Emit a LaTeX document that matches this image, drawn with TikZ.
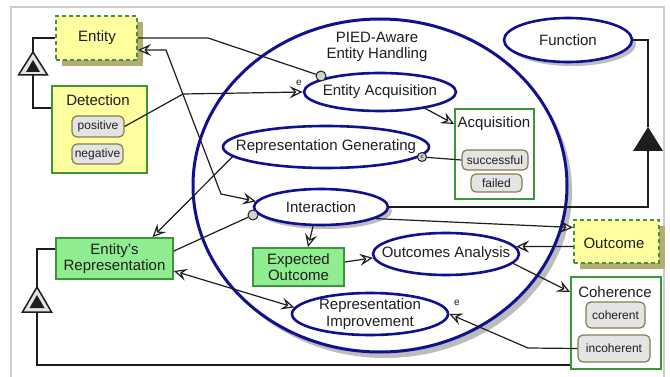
\documentclass[tikz,border=0pt]{standalone}
\usepackage{fontspec}
\setmainfont{Liberation Sans}
\usetikzlibrary{arrows.meta,shadows,shapes.geometric,calc}

\definecolor{ink}{RGB}{30,30,30}
\definecolor{navy}{RGB}{16,16,145}
\definecolor{grn}{RGB}{60,150,60}
\definecolor{lgreen}{RGB}{144,238,144}
\definecolor{yel}{RGB}{255,255,160}
\definecolor{khaki}{RGB}{180,172,112}
\definecolor{shade}{RGB}{188,188,188}
\definecolor{pillfill}{RGB}{228,228,228}
\definecolor{pilldraw}{RGB}{135,125,75}
\definecolor{dotfill}{RGB}{210,210,210}
\definecolor{framec}{RGB}{205,205,205}

\tikzset{
  txt/.style={font=\fontsize{15}{16.5}\selectfont, text=ink, align=center, inner sep=0pt},
  tiny/.style={font=\fontsize{10}{10}\selectfont, text=ink, inner sep=0pt},
  ell/.style={ellipse, draw=navy, line width=2.6pt, fill=white, inner sep=0pt},
  ellshadow/.style={drop shadow={shadow xshift=4pt, shadow yshift=-4pt, fill=shade, opacity=1}},
  greenbox/.style={rectangle, draw=grn, line width=1.8pt, fill=lgreen, inner sep=0pt},
  frame/.style={rectangle, draw=grn, line width=1.8pt, fill=white, inner sep=0pt},
  detbox/.style={rectangle, draw=grn, line width=1.8pt, fill=yel, inner sep=0pt},
  thing/.style={rectangle, draw=grn, line width=2pt, dash pattern=on 4pt off 3pt, fill=yel, inner sep=0pt,
    drop shadow={shadow xshift=6pt, shadow yshift=-6pt, fill=khaki, opacity=1}},
  pill/.style={rectangle, rounded corners=5pt, draw=pilldraw, line width=1.2pt, fill=pillfill,
    inner sep=0pt, font=\fontsize{12}{13}\selectfont, text=ink},
  dot/.style={circle, draw=ink, fill=dotfill, line width=1pt, minimum size=10pt, inner sep=0pt},
  conn/.style={draw=ink, line width=1.2pt},
  tip/.tip={Stealth[fill=white, length=13pt, width=12pt, inset=5pt]},
  arr/.style={conn, -tip},
  arrboth/.style={conn, tip-tip},
  gentri/.style={draw=ink, fill=pillfill, line width=1.5pt, line join=miter},
}

\begin{document}
\begin{tikzpicture}[x=1pt, y=-1pt]
\useasboundingbox (0,0) rectangle (670,377);

% outer frame
\draw[framec, line width=1.5pt] (11,377) -- (11,7) -- (664,7) -- (664,377);

% central use-case container
\node[ell, line width=3pt, minimum width=374pt, minimum height=333pt,
  drop shadow={shadow xshift=5pt, shadow yshift=-6pt, fill=shade, opacity=1}] (main) at (380,185.5) {};
\node[txt] (pied) at (377,47) {PIED-Aware\\Entity Handling};

% use cases
\node[ell, minimum width=152pt, minimum height=38pt, label={[txt]center:Entity Acquisition}] (ea) at (380,92) {};
\node[ell, minimum width=206pt, minimum height=42pt, label={[txt]center:Representation Generating}] (rg) at (326,147) {};
\node[ell, ellshadow, minimum width=134pt, minimum height=36pt, label={[txt]center:Interaction}] (int) at (321,207) {};
\node[ell, minimum width=146pt, minimum height=42pt, label={[txt]center:Outcomes Analysis}] (oa) at (446,254) {};
\node[ell, minimum width=156pt, minimum height=42pt, label={[txt]center:Representation\\Improvement}] (ri) at (370,314) {};
\node[ell, ellshadow, minimum width=128pt, minimum height=44pt, label={[txt]center:Function}] (fn) at (568,40) {};

% things
\node[thing, minimum width=81pt, minimum height=44pt] (entity) at (96.5,38) {};
\node[txt] (entityT) at (97,38) {Entity};
\node[thing, minimum width=85pt, minimum height=43pt] (out) at (616.5,241.5) {};
\node[txt] (outT) at (614,243) {Outcome};

% Detection state box
\node[detbox, minimum width=95pt, minimum height=87pt] (det) at (99.5,129.5) {};
\node[txt] (detT) at (98,100) {Detection};
\node[pill, minimum width=52pt, minimum height=21pt] (pos) at (98,126.5) {positive};
\node[pill, minimum width=51pt, minimum height=20pt] (neg) at (97.5,154) {negative};

% Acquisition state box
\node[frame, minimum width=79pt, minimum height=90pt] (acq) at (494.5,154) {};
\node[txt] (acqT) at (494,124) {Acquisition};
\node[pill, minimum width=66pt, minimum height=20pt] (succ) at (495,160) {successful};
\node[pill, minimum width=51pt, minimum height=18pt] (fail) at (496.5,183) {failed};

% Coherence state box
\node[frame, minimum width=90pt, minimum height=92pt] (coh) at (616,323) {};
\node[txt] (cohT) at (615,292) {Coherence};
\node[pill, minimum width=59pt, minimum height=26pt] (cohr) at (615.5,315) {coherent};
\node[pill, minimum width=72pt, minimum height=27pt] (inc) at (614,348.5) {incoherent};

% objects
\node[greenbox, minimum width=117pt, minimum height=41pt, txt] (er) at (114.5,258.5) {Entity’s\\Representation};
\node[greenbox, minimum width=91pt, minimum height=38pt, txt] (eo) at (298.5,267) {Expected\\Outcome};

% link markers
\node[dot] (d1) at (321,76) {};
\node[dot] (d2) at (253,215) {};
\node[dot, minimum size=9pt, font=\fontsize{6}{6}\selectfont] (cdot) at (422,157) {c};
\node[tiny] (e1) at (299,83) {e};
\node[tiny] (e2) at (457,303) {e};

% bend points
\coordinate (b1) at (208,38);
\coordinate (b2) at (183,94);
\coordinate (b3) at (166,50);
\coordinate (b4) at (221,194);
\coordinate (b5) at (528,348);
\coordinate (t1a) at (33,52);
\coordinate (t1b) at (33,75);
\coordinate (t2a) at (37,287);
\coordinate (t2b) at (37,312);
\coordinate (t3a) at (648,127);
\coordinate (t3b) at (648,151);

% links
\draw[conn] (entity.east) -- (b1) -- (d1);
\draw[arr] (pos.east) -- (b2) -- (ea.west);
\draw[arr] (ea.-20) -- (acq.west |- acqT.center);
\draw[conn] (cdot) -- (succ.west);
\draw[arr] (rg.186) -- ([xshift=38pt]er.north);
\draw[arrboth] ([yshift=-12pt]entity.east) -- (b3) -- (b4) -- (int.175);
\draw[conn] ([yshift=7.5pt]er.east) -- (d2);
\draw[arr] ([xshift=-8pt]int.south) -- ([xshift=9.5pt]eo.north);
\draw[arr] ([yshift=5pt]eo.east) -- (oa.183);
\draw[arr] (int.-12) -- ([yshift=14pt]out.west);
\draw[arr] ([yshift=-5pt]out.west) -- (oa.6);
\draw[arr] (oa.-8) -- (coh.west |- cohT.center);
\draw[arr] (inc.west) -- (b5) -- (ri.east);
\draw[arrboth] ([yshift=-12.5pt]er.east) -- (ri.175);

% generalisations
\draw[conn] (fn.east) -| (t3a);
\draw[conn] (t3b) |- (int.east);
\draw[conn] (entity.west) -| (t1a);
\draw[conn] (t1b) |- ([yshift=21.5pt]det.west);
\draw[conn] ([yshift=9.5pt]er.west) -| (t2a);
\draw[conn] (t2b) |- ([yshift=5pt]coh.south west);

\filldraw[gentri] (t1a) -- ++(-14.5,23) -- ++(29,0) -- cycle;
\fill[ink] ($(t1a)+(0,8)$) -- ++(-7,12) -- ++(14,0) -- cycle;
\filldraw[gentri] (t2a) -- ++(-14.5,25) -- ++(29,0) -- cycle;
\fill[ink] ($(t2a)+(0,8)$) -- ++(-7.5,13) -- ++(15,0) -- cycle;
\fill[ink] (t3a) -- ++(-15,24) -- ++(30,0) -- cycle;
\end{tikzpicture}
\end{document}
